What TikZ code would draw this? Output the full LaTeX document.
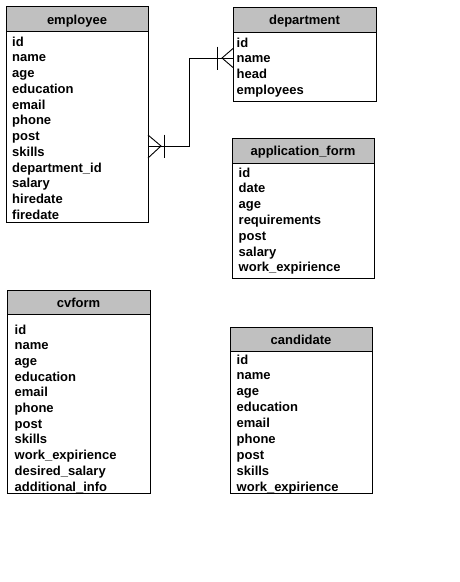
\documentclass[tikz,border=0pt]{standalone}
\usepackage{fontspec}
\setmainfont{Liberation Sans}
\definecolor{headgray}{RGB}{192,192,192}
\tikzset{
  tbody/.style={draw, line width=0.9pt, fill=white, inner sep=0pt, outer sep=0pt, anchor=north west},
  thead/.style={draw, line width=0.9pt, fill=headgray, inner sep=0pt, outer sep=0pt, anchor=north west},
  htext/.style={font=\bfseries\fontsize{13}{16}\selectfont, anchor=base, inner sep=0pt},
  ftext/.style={font=\bfseries\fontsize{13}{16}\selectfont, anchor=base west, inner sep=0pt},
  rel/.style={line width=0.9pt, line cap=butt},
}
\newcommand\fieldlist[5]{%
  \foreach \t [count=\i] in {#5} {\node[ftext] (#1-f\i) at ({#2}, {#3+#4*(\i-1)}) {\t};}}
\begin{document}
\begin{tikzpicture}[x=1pt, y=-1pt]
\fill[white] (0,0) rectangle (460,582);
\useasboundingbox (0,0) rectangle (460,582);

% employee
\node[tbody, minimum width=142pt, minimum height=216pt] (employee) at (6,6) {};
\node[thead, minimum width=142pt, minimum height=25pt] (employee-head) at (6,6) {};
\node[htext] (employee-title) at (77,24) {employee};
\fieldlist{employee}{12}{46}{15.75}{id,name,age,education,email,phone,post,skills,department\_id,salary,hiredate,firedate}

% department
\node[tbody, minimum width=143pt, minimum height=94pt] (department) at (233,7) {};
\node[thead, minimum width=143pt, minimum height=25pt] (department-head) at (233,7) {};
\node[htext] (department-title) at (304.5,24.5) {department};
\fieldlist{department}{236.5}{47}{15.9}{id,name,head,employees}

% application_form
\node[tbody, minimum width=142pt, minimum height=140pt] (appform) at (232,138) {};
\node[thead, minimum width=142pt, minimum height=25pt] (appform-head) at (232,138) {};
\node[htext] (appform-title) at (303,155.5) {application\_form};
\fieldlist{appform}{238.5}{177}{15.8}{id,date,age,requirements,post,salary,work\_expirience}

% cvform
\node[tbody, minimum width=143pt, minimum height=203pt] (cvform) at (7,290) {};
\node[thead, minimum width=143pt, minimum height=24pt] (cvform-head) at (7,290) {};
\node[htext] (cvform-title) at (78.5,307) {cvform};
\fieldlist{cvform}{14.5}{334}{15.7}{id,name,age,education,email,phone,post,skills,work\_expirience,desired\_salary,additional\_info}

% candidate
\node[tbody, minimum width=142pt, minimum height=166pt] (candidate) at (230,327) {};
\node[thead, minimum width=142pt, minimum height=24pt] (candidate-head) at (230,327) {};
\node[htext] (candidate-title) at (301,344) {candidate};
\fieldlist{candidate}{236.5}{364}{15.9}{id,name,age,education,email,phone,post,skills,work\_expirience}

% relationship employee -- department
\coordinate (ec) at ([yshift=-140pt]employee.north east);
\coordinate (dc) at ([yshift=-51pt]department.north west);
\draw[rel] (ec) -- ++(41,0) |- (dc);
\draw[rel] ([yshift=11pt]ec) -- ++(13,11) -- ++(-13,12);
\draw[rel] ([xshift=16pt,yshift=11.5pt]ec) -- ++(0,23);
\draw[rel] ([yshift=9.5pt]dc) -- ++(-11,9.5) -- ++(11,9.5);
\draw[rel] ([xshift=-16pt,yshift=11.5pt]dc) -- ++(0,23);
\end{tikzpicture}
\end{document}
